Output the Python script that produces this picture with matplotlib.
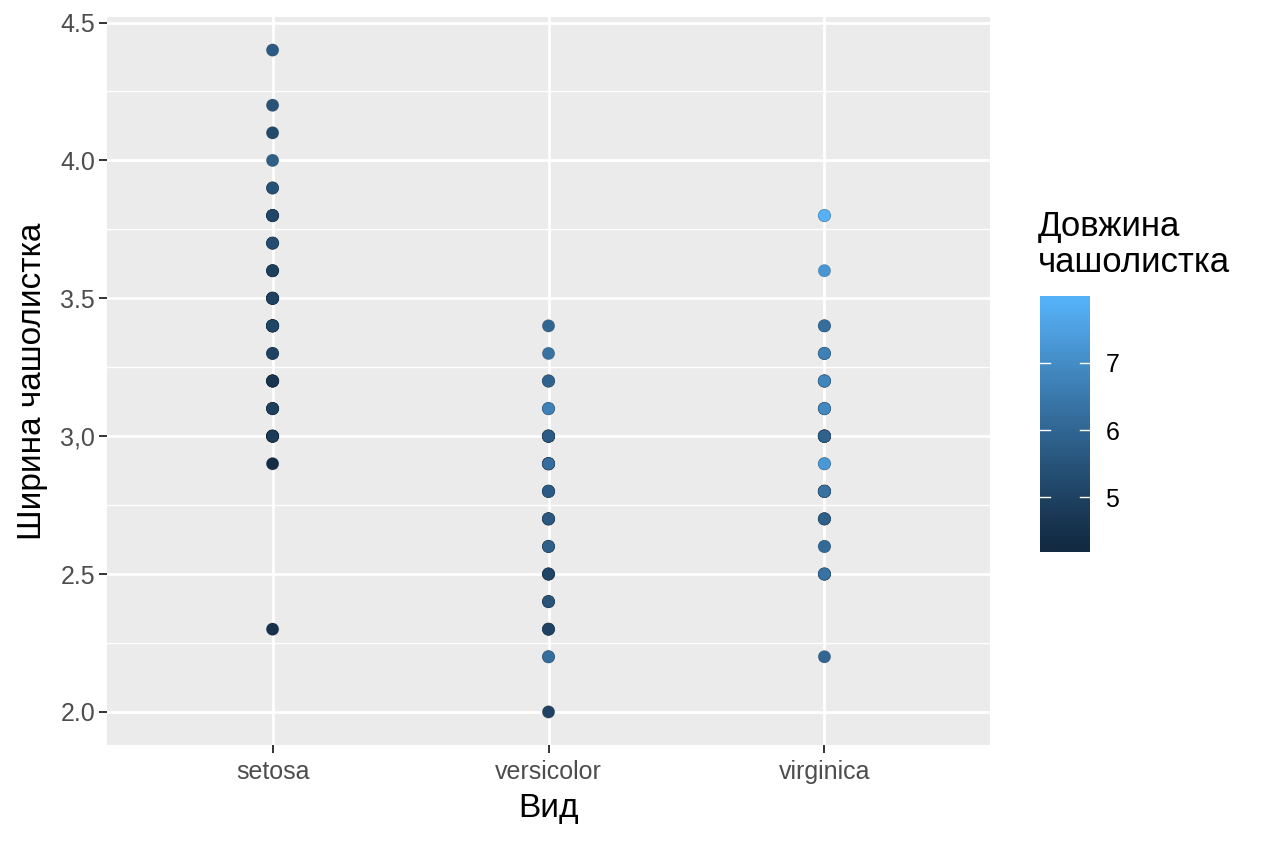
import numpy as np
import matplotlib.pyplot as plt
from matplotlib.colors import ListedColormap, Normalize

plt.rcParams['font.family'] = ['Liberation Sans', 'DejaVu Sans']

species = ["setosa", "versicolor", "virginica"]

# iris: sepal length / sepal width, in row order (draw order matters for overplotting)
setosa_length = [5.1, 4.9, 4.7, 4.6, 5.0, 5.4, 4.6, 5.0, 4.4, 4.9, 5.4, 4.8, 4.8, 4.3, 5.8, 5.7, 5.4,
                 5.1, 5.7, 5.1, 5.4, 5.1, 4.6, 5.1, 4.8, 5.0, 5.0, 5.2, 5.2, 4.7, 4.8, 5.4, 5.2, 5.5,
                 4.9, 5.0, 5.5, 4.9, 4.4, 5.1, 5.0, 4.5, 4.4, 5.0, 5.1, 4.8, 5.1, 4.6, 5.3, 5.0]
setosa_width = [3.5, 3.0, 3.2, 3.1, 3.6, 3.9, 3.4, 3.4, 2.9, 3.1, 3.7, 3.4, 3.0, 3.0, 4.0, 4.4, 3.9,
                3.5, 3.8, 3.8, 3.4, 3.7, 3.6, 3.3, 3.4, 3.0, 3.4, 3.5, 3.4, 3.2, 3.1, 3.4, 4.1, 4.2,
                3.1, 3.2, 3.5, 3.6, 3.0, 3.4, 3.5, 2.3, 3.2, 3.5, 3.8, 3.0, 3.8, 3.2, 3.7, 3.3]
versicolor_length = [7.0, 6.4, 6.9, 5.5, 6.5, 5.7, 6.3, 4.9, 6.6, 5.2, 5.0, 5.9, 6.0, 6.1, 5.6, 6.7, 5.6,
                     5.8, 6.2, 5.6, 5.9, 6.1, 6.3, 6.1, 6.4, 6.6, 6.8, 6.7, 6.0, 5.7, 5.5, 5.5, 5.8, 6.0,
                     5.4, 6.0, 6.7, 6.3, 5.6, 5.5, 5.5, 6.1, 5.8, 5.0, 5.6, 5.7, 5.7, 6.2, 5.1, 5.7]
versicolor_width = [3.2, 3.2, 3.1, 2.3, 2.8, 2.8, 3.3, 2.4, 2.9, 2.7, 2.0, 3.0, 2.2, 2.9, 2.9, 3.1, 3.0,
                    2.7, 2.2, 2.5, 3.2, 2.8, 2.5, 2.8, 2.9, 3.0, 2.8, 3.0, 2.9, 2.6, 2.4, 2.4, 2.7, 2.7,
                    3.0, 3.4, 3.1, 2.3, 3.0, 2.5, 2.6, 3.0, 2.6, 2.3, 2.7, 3.0, 2.9, 2.9, 2.5, 2.8]
virginica_length = [6.3, 5.8, 7.1, 6.3, 6.5, 7.6, 4.9, 7.3, 6.7, 7.2, 6.5, 6.4, 6.8, 5.7, 5.8, 6.4, 6.5,
                    7.7, 7.7, 6.0, 6.9, 5.6, 7.7, 6.3, 6.7, 7.2, 6.2, 6.1, 6.4, 7.2, 7.4, 7.9, 6.4, 6.3,
                    6.1, 7.7, 6.3, 6.4, 6.0, 6.9, 6.7, 6.9, 5.8, 6.8, 6.7, 6.7, 6.3, 6.5, 6.2, 5.9]
virginica_width = [3.3, 2.7, 3.0, 2.9, 3.0, 3.0, 2.5, 2.9, 2.5, 3.6, 3.2, 2.7, 3.0, 2.5, 2.8, 3.2, 3.0,
                   3.8, 2.6, 2.2, 3.2, 2.8, 2.8, 2.7, 3.3, 3.2, 2.8, 3.0, 2.8, 3.0, 2.8, 3.8, 2.8, 2.8,
                   2.6, 3.0, 3.4, 3.1, 3.0, 3.1, 3.1, 3.1, 2.7, 3.2, 3.3, 3.0, 2.5, 3.0, 3.4, 3.0]

y_ticks = [2.0, 2.5, 3.0, 3.5, 4.0, 4.5]
y_ticklabels = ["2.0", "2.5", "3,0", "3.5", "4.0", "4.5"]
cbar_ticks = [5, 6, 7]


# ggplot2 default continuous gradient (#132B43 -> #56B1F7) interpolated in Lab
def hex_to_rgb(h):
    return np.array([int(h[i:i + 2], 16) / 255 for i in (1, 3, 5)])

M = np.array([[0.4124564, 0.3575761, 0.1804375],
              [0.2126729, 0.7151522, 0.0721750],
              [0.0193339, 0.1191920, 0.9503041]])
WHITE = np.array([0.95047, 1.0, 1.08883])

def rgb_to_lab(c):
    lin = np.where(c <= 0.04045, c / 12.92, ((c + 0.055) / 1.055) ** 2.4)
    t = M @ lin / WHITE
    f = np.where(t > (6 / 29) ** 3, np.cbrt(t), t / (3 * (6 / 29) ** 2) + 4 / 29)
    return np.array([116 * f[1] - 16, 500 * (f[0] - f[1]), 200 * (f[1] - f[2])])

def lab_to_rgb(lab):
    fy = (lab[0] + 16) / 116
    f = np.array([fy + lab[1] / 500, fy, fy - lab[2] / 200])
    t = np.where(f > 6 / 29, f ** 3, 3 * (6 / 29) ** 2 * (f - 4 / 29)) * WHITE
    lin = np.linalg.solve(M, t)
    c = np.where(lin <= 0.0031308, 12.92 * lin, 1.055 * np.abs(lin) ** (1 / 2.4) - 0.055)
    return np.clip(c, 0, 1)

lo_lab = rgb_to_lab(hex_to_rgb("#132B43"))
hi_lab = rgb_to_lab(hex_to_rgb("#56B1F7"))
cmap = ListedColormap([lab_to_rgb(lo_lab + (hi_lab - lo_lab) * s) for s in np.linspace(0, 1, 256)])

all_length = setosa_length + versicolor_length + virginica_length
norm = Normalize(vmin=min(all_length), vmax=max(all_length))

fig = plt.figure(figsize=(12.64, 8.43), dpi=100)
ax = fig.add_axes([107 / 1264, 1 - 745 / 843, (990 - 107) / 1264, (745 - 17) / 843])
ax.set_facecolor('#EBEBEB')
for s in ax.spines.values():
    s.set_visible(False)

groups = [(setosa_length, setosa_width), (versicolor_length, versicolor_width),
          (virginica_length, virginica_width)]
for i, (lengths, widths) in enumerate(groups):
    ax.scatter(np.full(len(widths), i + 1), widths, c=lengths, cmap=cmap, norm=norm, s=80,
               edgecolors=(0, 0, 0, 0.2), linewidths=0.5, zorder=3)

ax.set_xlim(0.4, 3.6)
ax.set_ylim(1.88, 4.52)
ax.set_xticks([1, 2, 3])
ax.set_xticklabels(species)
ax.set_yticks(y_ticks)
ax.set_yticklabels(y_ticklabels)
ax.set_yticks([2.25, 2.75, 3.25, 3.75, 4.25], minor=True)
ax.grid(which='major', color='white', linewidth=2.0, zorder=0)
ax.grid(which='minor', axis='y', color='white', linewidth=1.0, zorder=0)
ax.set_axisbelow(True)
ax.tick_params(which='major', length=5.5, width=1.4, color='#333333', labelsize=18,
               labelcolor='#4D4D4D', pad=3)
ax.tick_params(axis='x', pad=5)
ax.tick_params(which='minor', length=0)
ax.set_xlabel("Вид", fontsize=24, labelpad=7)
ax.set_ylabel("Ширина чашолистка", fontsize=24, labelpad=9)

# colour bar in ggplot style
cax = fig.add_axes([1040 / 1264, 1 - 552 / 843, 50 / 1264, (552 - 296) / 843])
c_lo, c_hi = 4.19, 7.99
grad = np.linspace(c_hi, c_lo, 300).reshape(-1, 1)
cax.imshow(grad, extent=[0, 1, c_lo, c_hi], aspect='auto', cmap=cmap, norm=norm)
cax.set_xlim(0, 1)
cax.set_ylim(c_lo, c_hi)
for t in cbar_ticks:
    cax.plot([0, 0.2], [t, t], color='white', linewidth=1.0)
    cax.plot([0.8, 1], [t, t], color='white', linewidth=1.0)
for s in cax.spines.values():
    s.set_visible(False)
cax.set_xticks([])
cax.yaxis.tick_right()
cax.set_yticks(cbar_ticks)
cax.tick_params(axis='y', length=0, labelsize=18, pad=11)
fig.text(1038 / 1264, 1 - 210 / 843, "Довжина\nчашолистка", fontsize=25, ha='left', va='top',
         linespacing=1.1)

fig.savefig("out.png", dpi=100)
